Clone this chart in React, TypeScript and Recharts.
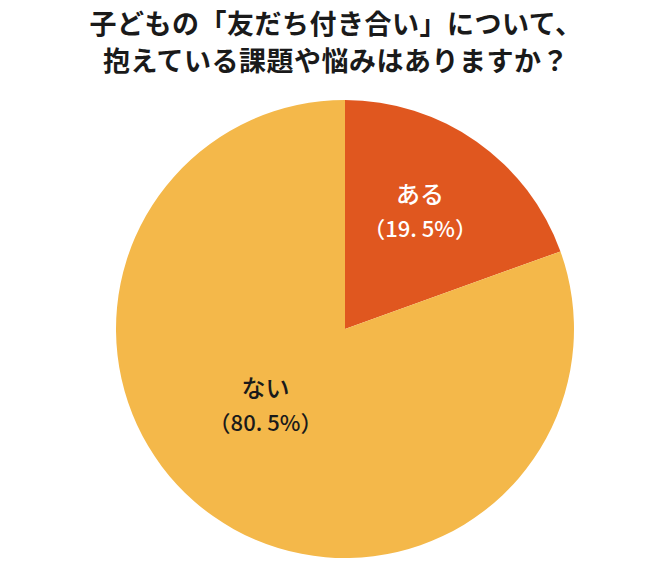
import { PieChart, Pie, Cell } from 'recharts'

const answers = ['ある', 'ない']
const shares = [19.5, 80.5]
const titleLines = ['子どもの「友だち付き合い」について、', '抱えている課題や悩みはありますか？']

const COLORS = ['#e0571f', '#f4b84a']
const TEXT_COLORS = ['#ffffff', '#1a1a1a']
// label placement tweaks (radius ratio / angle shift) to sit like the original
const LABEL_R = [0.6, 0.49]
const LABEL_SHIFT = [2, -10]
const FONT = '"Noto Sans CJK JP", "Noto Sans", sans-serif'

const RAD = Math.PI / 180

const chartData = answers.map((name, i) => ({ name, value: shares[i] }))

function renderLabel(props: any) {
  const { cx, cy, midAngle, outerRadius, index, name, value } = props
  const a = (midAngle + LABEL_SHIFT[index]) * RAD
  const r = outerRadius * LABEL_R[index]
  const x = cx + r * Math.cos(a)
  const y = cy - r * Math.sin(a)
  const pct = value.toFixed(1).replace('.', '. ')
  return (
    <text x={x} y={y} textAnchor="middle" fill={TEXT_COLORS[index]} fontFamily={FONT} fontSize={24} fontWeight={500}>
      <tspan x={x} dy={-11}>{name}</tspan>
      <tspan x={x} dy={34} fontSize={22}>{`（${pct}%）`}</tspan>
    </text>
  )
}

export default function App() {
  return (
    <div style={{ position: 'absolute', left: 0, top: 0, width: 670, height: 568, background: '#fff' }}>
      <div
        style={{
          position: 'absolute',
          left: 0,
          top: 4,
          width: 672,
          textAlign: 'center',
          fontFamily: FONT,
          fontWeight: 700,
          fontSize: 27,
          lineHeight: '37px',
          color: '#1a1a1a',
          letterSpacing: 0.5,
        }}
      >
        {titleLines.map((t) => (
          <div key={t}>{t}</div>
        ))}
      </div>
      <PieChart width={670} height={568} style={{ position: 'absolute', left: 0, top: 0 }}>
        <Pie
          data={chartData}
          dataKey="value"
          nameKey="name"
          cx={340}
          cy={324}
          outerRadius={229}
          startAngle={90}
          endAngle={-270}
          stroke="none"
          label={renderLabel}
          labelLine={false}
          isAnimationActive={false}
        >
          {chartData.map((_, i) => (
            <Cell key={i} fill={COLORS[i]} />
          ))}
        </Pie>
      </PieChart>
    </div>
  )
}
